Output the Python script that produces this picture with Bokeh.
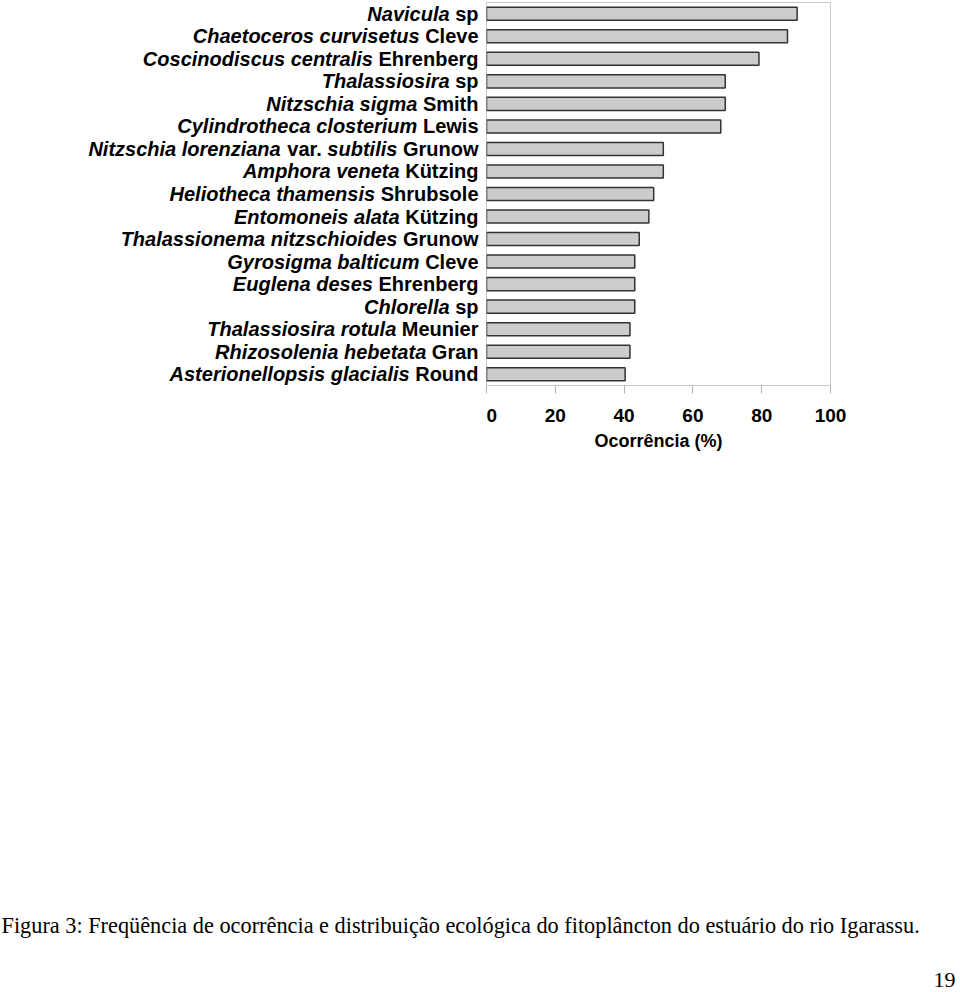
from bokeh.plotting import figure
from bokeh.models import FactorRange, Range1d, FixedTicker, ColumnDataSource
from bokeh.layouts import row, column
from bokeh.core.properties import value
from bokeh.embed import file_html
from bokeh.resources import INLINE

# ---- data (top to bottom as in the reference) ----
taxa = [
    "Navicula",
    "Chaetoceros curvisetus",
    "Coscinodiscus centralis",
    "Thalassiosira",
    "Nitzschia sigma",
    "Cylindrotheca closterium",
    "Nitzschia lorenziana var. subtilis",
    "Amphora veneta",
    "Heliotheca thamensis",
    "Entomoneis alata",
    "Thalassionema nitzschioides",
    "Gyrosigma balticum",
    "Euglena deses",
    "Chlorella",
    "Thalassiosira rotula",
    "Rhizosolenia hebetata",
    "Asterionellopsis glacialis",
]
authors = [
    "sp", "Cleve", "Ehrenberg", "sp", "Smith", "Lewis", "Grunow", "Kützing",
    "Shrubsole", "Kützing", "Grunow", "Cleve", "Ehrenberg", "sp", "Meunier",
    "Gran", "Round",
]
occurrence = [90.3, 87.5, 79.2, 69.4, 69.4, 68.1, 51.4, 51.4, 48.6, 47.2,
              44.4, 43.1, 43.1, 43.1, 41.7, 41.7, 40.3]
x_ticks = [0, 20, 40, 60, 80, 100]
x_label = "Ocorrência (%)"
caption = ("Figura 3: Freqüência de ocorrência e distribuição ecológica do "
           "fitoplâncton do estuário do rio Igarassu.")
page_number = "19"

labels = [f"{t} {a}" for t, a in zip(taxa, authors)]

# ---- Liberation Sans Bold (Arial/Helvetica-Bold) advance widths, 1/1000 em ----
W = {' ': 278, '.': 278,
     'A': 722, 'B': 722, 'C': 722, 'D': 722, 'E': 667, 'F': 611, 'G': 778, 'H': 722,
     'I': 278, 'J': 556, 'K': 722, 'L': 611, 'M': 833, 'N': 722, 'O': 778, 'P': 667,
     'Q': 778, 'R': 722, 'S': 667, 'T': 611, 'U': 722, 'V': 667, 'W': 944, 'X': 667,
     'Y': 667, 'Z': 611,
     'a': 556, 'b': 611, 'c': 556, 'd': 611, 'e': 556, 'f': 333, 'g': 611, 'h': 611,
     'i': 278, 'j': 278, 'k': 556, 'l': 278, 'm': 889, 'n': 611, 'o': 611, 'p': 611,
     'q': 611, 'r': 389, 's': 556, 't': 333, 'u': 611, 'v': 556, 'w': 778, 'x': 556,
     'y': 556, 'z': 500, 'ü': 611}
FS = 20  # label font size, px


def tw(s):
    return sum(W.get(c, 556) for c in s) * FS / 1000.0


LABEL_FONT = "Liberation Sans"
FRAME_H = 383
TOP = 2
BOTTOM = 90
LEFT_W = 486
ANCHOR = LEFT_W - 8

# build label segments, right to left
it = dict(x=[], y=[], text=[], xoff=[])
up = dict(x=[], y=[], text=[], xoff=[])
for lab, t, a in zip(labels, taxa, authors):
    if " var. " in t:
        p1, p2 = t.split(" var. ")
        segs = [(p1, True), ("var.", False), (p2, True)]
    else:
        segs = [(t, True)]
    segs.append((a, False))
    off = 0.0
    for s, is_it in reversed(segs):
        d = it if is_it else up
        d["x"].append(ANCHOR)
        d["y"].append(lab)
        d["text"].append(s)
        d["xoff"].append(-off)
        off += tw(s) + tw(" ")

yr = FactorRange(factors=list(reversed(labels)))

# ---- label panel ----
lf = figure(y_range=yr, x_range=Range1d(0, LEFT_W), frame_width=LEFT_W,
            frame_height=FRAME_H, min_border_left=0, min_border_right=0,
            min_border_top=TOP, min_border_bottom=BOTTOM,
            x_axis_location=None, y_axis_location=None,
            output_backend="svg", toolbar_location=None)
lf.outline_line_color = None
lf.grid.visible = False
lf.text(x="x", y="y", text="text", x_offset="xoff", source=ColumnDataSource(it),
        text_align="right", text_baseline="middle", text_color="black",
        text_font=value(LABEL_FONT), text_font_style="bold italic",
        text_font_size=f"{FS}px")
lf.text(x="x", y="y", text="text", x_offset="xoff", source=ColumnDataSource(up),
        text_align="right", text_baseline="middle", text_color="black",
        text_font=value(LABEL_FONT), text_font_style="bold",
        text_font_size=f"{FS}px")

# ---- bar chart ----
src = ColumnDataSource(dict(label=labels, value=occurrence))
p = figure(y_range=yr, x_range=Range1d(0, 100), frame_width=344,
           frame_height=FRAME_H, min_border_left=0, min_border_right=24,
           min_border_top=TOP, min_border_bottom=BOTTOM,
           y_axis_location=None, output_backend="svg", toolbar_location=None)
p.hbar(y="label", left=0, right="value", height=0.58, source=src,
       fill_color="#cccccc", line_color="#333333", line_width=1.5)
p.grid.visible = False
p.outline_line_color = "#c8c8c8"
p.outline_line_width = 1
ax = p.xaxis[0]
ax.ticker = FixedTicker(ticks=x_ticks)
ax.axis_line_color = "#c8c8c8"
ax.major_tick_line_color = "#b4b4b4"
ax.major_tick_in = 0
ax.major_tick_out = 8
ax.minor_tick_line_color = None
ax.major_label_standoff = 15
ax.major_label_text_font = LABEL_FONT
ax.major_label_text_font_style = "bold"
ax.major_label_text_font_size = "19px"
ax.major_label_text_color = "black"
ax.axis_label = x_label
ax.axis_label_standoff = 6
ax.axis_label_text_font = LABEL_FONT
ax.axis_label_text_font_style = "bold"
ax.axis_label_text_font_size = "18px"
ax.axis_label_text_color = "black"

# ---- caption / page number ----
ROW_H = TOP + FRAME_H + BOTTOM
CAP_H = 990 - ROW_H
CAP_W = 958
cf = figure(x_range=Range1d(0, CAP_W), y_range=Range1d(CAP_H, 0), frame_width=CAP_W,
            frame_height=CAP_H, min_border_left=0, min_border_right=0,
            min_border_top=0, min_border_bottom=0,
            x_axis_location=None, y_axis_location=None,
            output_backend="svg", toolbar_location=None)
cf.outline_line_color = None
cf.grid.visible = False
cf.text(x=[1], y=[925 - ROW_H], text=[caption], text_align="left",
        text_baseline="middle", text_color="black",
        text_font=value("Liberation Serif"), text_font_size="22.3px")
cf.text(x=[955], y=[CAP_H - 11], text=[page_number], text_align="right",
        text_baseline="middle", text_color="black",
        text_font=value("Liberation Serif"), text_font_size="22px")

layout = column(row(lf, p), cf)
open("out.html", "w").write(file_html(layout, INLINE))
